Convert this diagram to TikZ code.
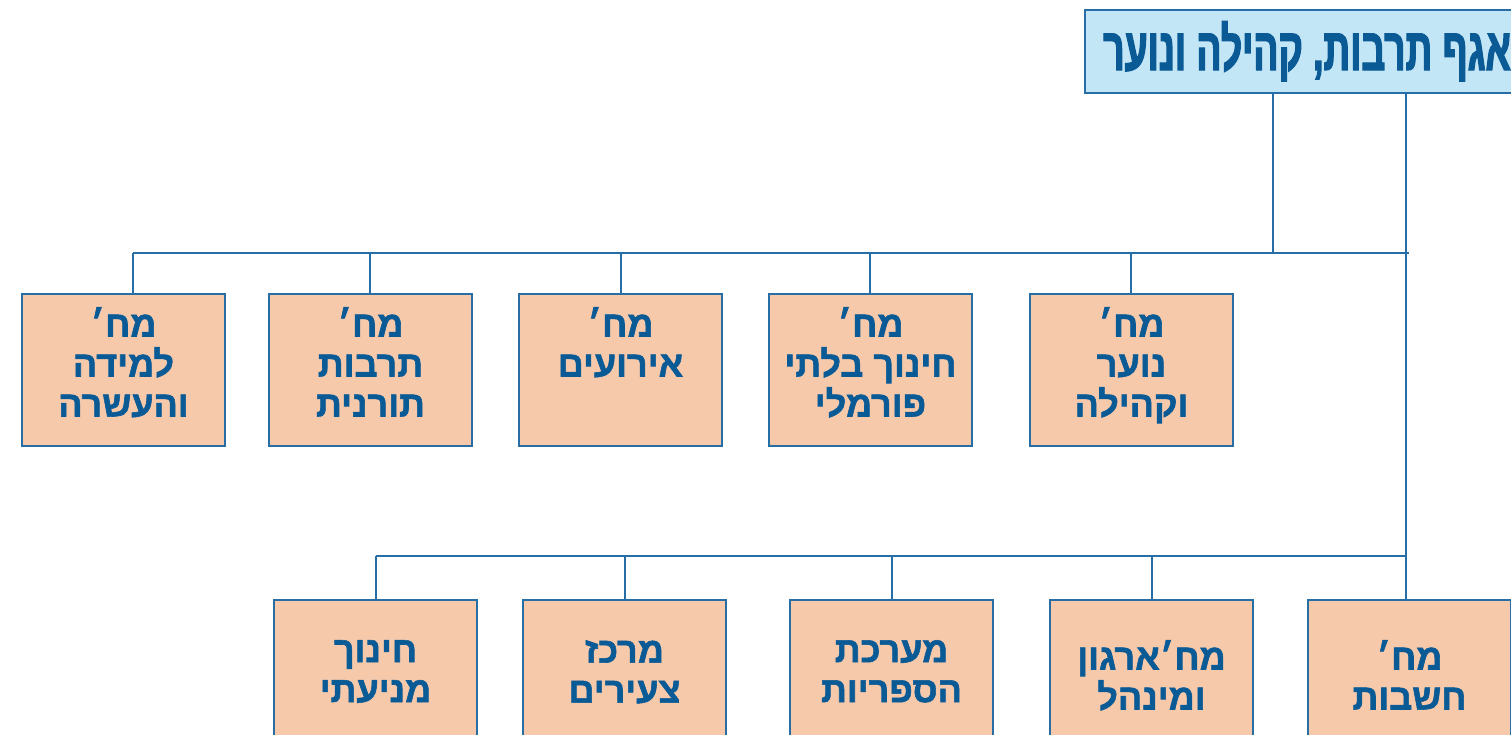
\documentclass[tikz,border=0pt]{standalone}
\usepackage{fontspec}
\newfontfamily\hebfont[Script=Hebrew,FakeBold=1.6]{Liberation Sans}
\newfontfamily\hebheadfont[Script=Hebrew,FakeStretch=0.62,FakeBold=2]{Liberation Sans}
\TeXXeTstate=1
\usetikzlibrary{positioning}
\definecolor{wireblue}{RGB}{38,110,165}
\definecolor{inkblue}{RGB}{10,90,150}
\definecolor{peach}{RGB}{247,201,171}
\definecolor{skyblue}{RGB}{194,230,246}
\newcommand{\heb}[1]{\beginR #1\endR}

\begin{document}
\begin{tikzpicture}[%
    x=1pt,y=-1pt,
    wire/.style={draw=wireblue,line width=1.6pt},
    unit/.style={%
      draw=wireblue,
      fill=peach,
      line width=1.6pt,
      minimum width=203pt,
      minimum height=152pt,
      inner sep=0pt,
      outer sep=0pt,
      anchor=north west,
    },
    unitname/.style={%
      text=inkblue,
      font=\hebfont\bfseries\fontsize{36}{40}\selectfont,
      align=center,
      inner sep=0pt,
      anchor=north,
      execute at begin node=\rule{0pt}{28pt},
    },
    headbox/.style={%
      draw=wireblue,
      fill=skyblue,
      line width=1.6pt,
      minimum width=460pt,
      minimum height=83pt,
      inner sep=0pt,
      outer sep=0pt,
      anchor=north west,
    },
  ]
  \useasboundingbox (0,0) rectangle (1511,734);
  \clip (0,0) rectangle (1511,734);

  % head of the department
  \node [headbox] (head) at (1085,10) {};
  \node [%
    text=inkblue,
    font=\hebheadfont\bfseries\fontsize{60}{60}\selectfont,
    inner sep=0pt,
    anchor=base west,
  ] (head-t) at (1103,70) {\heb{אגף תרבות, קהילה ונוער}};

  % first row
  \node [unit] (learn) at (22,294) {};
  \node [unit, right=44pt of learn] (torah) {};
  \node [unit, right=47pt of torah] (events) {};
  \node [unit, right=47pt of events] (informal) {};
  \node [unit, right=58pt of informal] (youth) {};

  \node [unitname] (learn-t) at ([yshift=-13pt]learn.north)
    {\heb{מח׳}\\\heb{למידה}\\\heb{והעשרה}};
  \node [unitname] (torah-t) at ([yshift=-13pt]torah.north)
    {\heb{מח׳}\\\heb{תרבות}\\\heb{תורנית}};
  \node [unitname] (events-t) at ([yshift=-13pt]events.north)
    {\heb{מח׳}\\\heb{אירועים}};
  \node [unitname] (informal-t) at ([yshift=-13pt]informal.north)
    {\heb{מח׳}\\\heb{חינוך בלתי}\\\heb{פורמלי}};
  \node [unitname] (youth-t) at ([yshift=-13pt]youth.north)
    {\heb{מח׳}\\\heb{נוער}\\\heb{וקהילה}};

  % second row
  \node [unit] (prevent) at (274,600) {};
  \node [unit, right=46pt of prevent] (young) {};
  \node [unit, right=64pt of young] (libs) {};
  \node [unit, right=57pt of libs] (admin) {};
  \node [unit, right=55pt of admin] (accounts) {};

  \node [unitname] (prevent-t) at ([yshift=-40pt]prevent.north)
    {\heb{חינוך}\\\heb{מניעתי}};
  \node [unitname] (young-t) at ([yshift=-40pt]young.north)
    {\heb{מרכז}\\\heb{צעירים}};
  \node [unitname] (libs-t) at ([yshift=-40pt]libs.north)
    {\heb{מערכת}\\\heb{הספריות}};
  \node [unitname] (admin-t) at ([yshift=-40pt]admin.north)
    {\heb{מח׳ארגון}\\\heb{ומינהל}};
  \node [unitname] (accounts-t) at ([yshift=-40pt]accounts.north)
    {\heb{מח׳}\\\heb{חשבות}};

  % connectors
  \coordinate (drop) at (1273,253);
  \coordinate (spine) at (1406,253);
  \coordinate (spine-low) at (1406,556);
  \draw [wire] (drop |- head.south) -- (drop);
  \draw [wire] (spine |- head.south) -- (spine |- accounts.north);

  \foreach \n/\x in {learn/133,torah/370,events/621,informal/870,youth/1131}{
    \coordinate (tap-\n) at (\x,253);
    \draw [wire] (tap-\n) -- (tap-\n |- \n.north);
  }
  \draw [wire] (tap-learn) -- ([xshift=3pt]spine);

  \foreach \n/\x in {prevent/376,young/625,libs/892,admin/1152}{
    \coordinate (tap-\n) at (\x,556);
    \draw [wire] (tap-\n) -- (tap-\n |- \n.north);
  }
  \draw [wire] (tap-prevent) -- (spine-low);
\end{tikzpicture}
\end{document}
